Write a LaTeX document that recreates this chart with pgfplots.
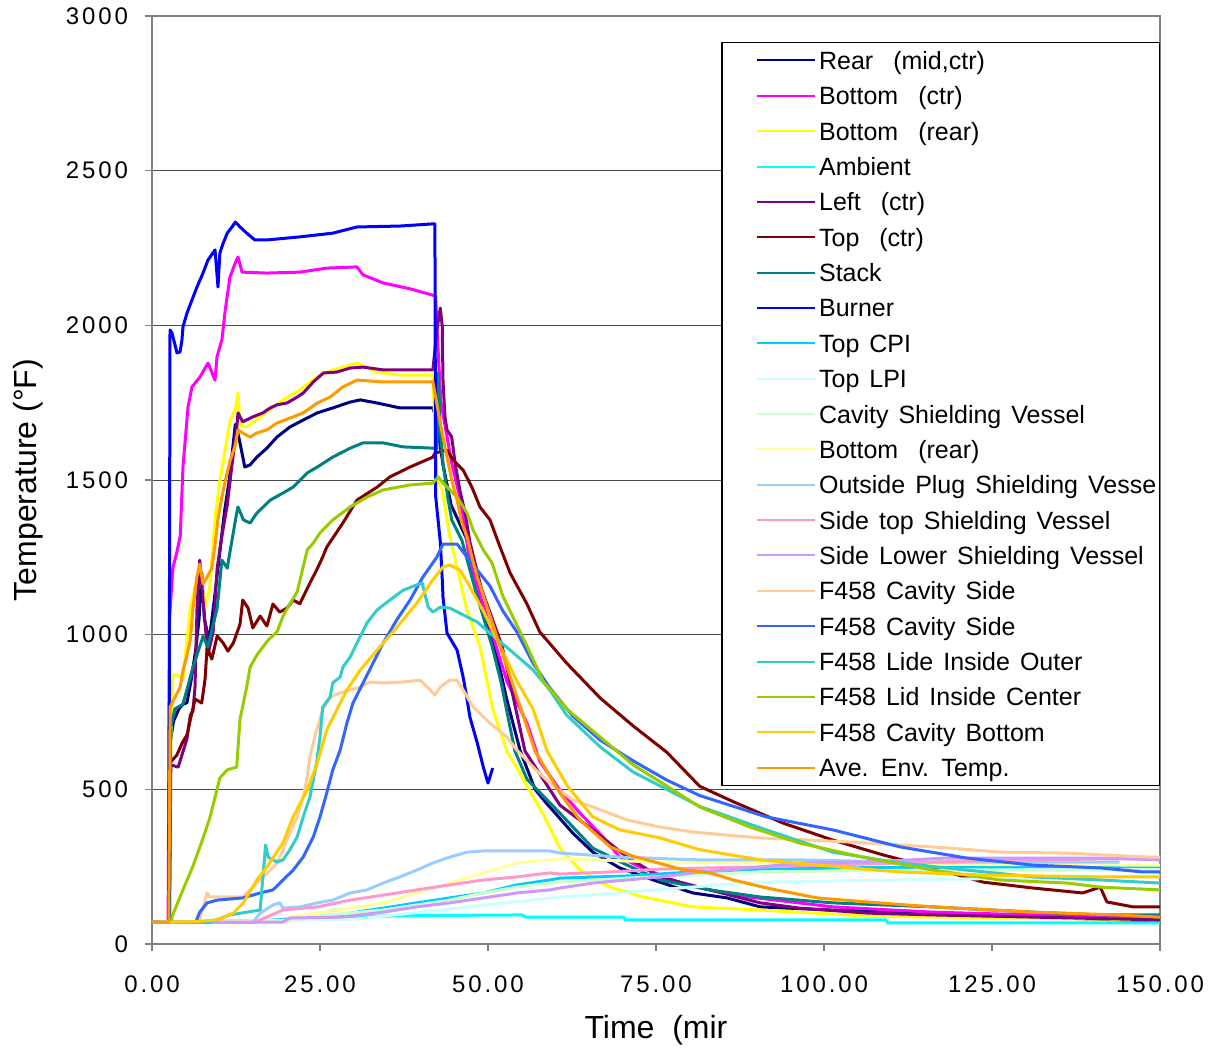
\documentclass[border=0pt]{standalone}
\usepackage{fontspec}
\setmainfont{Liberation Sans}
\newfontfamily\tickfont[LetterSpace=12]{Liberation Sans}
\newfontfamily\legfont[WordSpace=1.44]{Liberation Sans}
\usepackage{pgfplots}
\pgfplotsset{compat=1.18}
\definecolor{cA}{RGB}{0,0,128}
\definecolor{cB}{RGB}{255,0,255}
\definecolor{cC}{RGB}{255,255,0}
\definecolor{cD}{RGB}{0,255,255}
\definecolor{cE}{RGB}{128,0,128}
\definecolor{cF}{RGB}{128,0,0}
\definecolor{cG}{RGB}{0,128,128}
\definecolor{cH}{RGB}{0,0,255}
\definecolor{cI}{RGB}{0,204,255}
\definecolor{cJ}{RGB}{204,255,255}
\definecolor{cK}{RGB}{204,255,204}
\definecolor{cL}{RGB}{255,255,153}
\definecolor{cM}{RGB}{153,204,255}
\definecolor{cN}{RGB}{255,153,204}
\definecolor{cO}{RGB}{204,153,255}
\definecolor{cP}{RGB}{255,204,153}
\definecolor{cQ}{RGB}{51,102,255}
\definecolor{cR}{RGB}{51,204,204}
\definecolor{cS}{RGB}{153,204,0}
\definecolor{cT}{RGB}{255,204,0}
\definecolor{cU}{RGB}{255,153,0}
\begin{document}
\begin{tikzpicture}
\begin{axis}[
  scale only axis, width=504pt, height=464pt,
  xmin=0, xmax=150, ymin=0, ymax=3000,
  xtick={0,25,50,75,100,125,150}, ytick={0,500,1000,1500,2000,2500,3000},
  tick pos=left,
  tick align=outside, major tick length=3.5pt,
  tick style={color=black!50, line width=0.8pt},
  axis line style={color=black!50, line width=1pt},
  ymajorgrids, major grid style={color=black!70, line width=0.5pt},
  /pgf/number format/assume math mode=true,
  xticklabel style={font=\fontsize{12}{14}\tickfont, /pgf/number format/fixed, /pgf/number format/fixed zerofill, /pgf/number format/precision=2, yshift=-9pt},
  yticklabel style={font=\fontsize{12}{14}\tickfont, /pgf/number format/1000 sep={}, xshift=-5pt},
  xlabel={Time\ \ (mir},
  xlabel style={at={(axis description cs:0.5,-0.0927)}, anchor=center, font=\fontsize{16}{19}\selectfont},
  ylabel={Temperature (°F)},
  ylabel style={at={(axis description cs:-0.123,0.5)}, anchor=center, font=\fontsize{16}{19}\selectfont},
  every axis plot/.append style={line width=1.5pt, line join=round, no markers},
  legend cell align=left,
  legend image code/.code={\path[draw=none] (-17.5pt,0pt) (29pt,0pt); \draw[#1, line width=1pt] (0pt,0pt) -- (29pt,0pt);},
  legend style={at={(rel axis cs:1,0.972)}, anchor=north east, draw=black, line width=0.75pt,
    inner xsep=0pt, inner ysep=0pt, font=\fontsize{12.5}{15}\legfont,
    /tikz/column sep=0pt, /tikz/row sep=0pt,
    cells={anchor=west},
    nodes={inner xsep=1.5pt, inner ysep=0pt, text height=13.34pt, text depth=4.34pt}},
]
\addplot[cA] coordinates {(0,70)(2.5,70)(2.7,650)(3.2,720)(4.0,760)(4.6,775)(5.2,780)(5.8,850)(6.5,950)(7.0,1050)(7.4,1200)(7.8,1050)(8.5,980)(9.2,1100)(10.0,1250)(10.8,1400)(11.5,1500)(12.0,1600)(12.4,1680)(12.8,1650)(13.4,1587)(13.8,1542)(14.6,1549)(15.6,1574)(17.1,1603)(18.6,1639)(20.5,1671)(22.5,1694)(24.6,1717)(26.9,1733)(29.5,1752)(31.0,1759)(33.5,1749)(36.9,1733)(41.8,1733)(42.3,1700)(43.3,1550)(44.5,1420)(46.9,1306)(49.0,1100)(51.0,963)(52.8,790)(54.8,624)(57.0,500)(58.5,460)(62.6,359)(65.6,297)(69.6,246)(74.6,207)(80.5,165)(85.6,149)(90.5,120)(100.9,110)(115.8,100)(130.7,87)(150,74)};
\addlegendentry{Rear\ \ (mid,ctr)}
\addplot[cB] coordinates {(0,70)(2.4,70)(2.6,1047)(3.1,1215)(3.7,1267)(4.2,1319)(4.61,1542)(5.36,1736)(5.95,1801)(7.14,1833)(8.33,1878)(9.38,1823)(9.67,1898)(10.4,1953)(10.9,2050)(11.6,2156)(12.4,2202)(12.8,2221)(13.4,2172)(17.1,2169)(22.0,2172)(26.0,2185)(30.5,2189)(31.4,2163)(34.4,2137)(38.4,2118)(41.7,2098)(42.2,2095)(42.5,1950)(43.0,1750)(44.6,1555)(45.8,1445)(46.6,1338)(47.3,1232)(48.4,1157)(51.2,963)(52.8,850)(55.8,714)(57.7,590)(60.7,498)(63.7,423)(67.1,346)(69.6,281)(72.6,249)(79.0,194)(86.5,158)(101.3,120)(116.2,103)(131.1,94)(150,84)};
\addlegendentry{Bottom\ \ (ctr)}
\addplot[cC] coordinates {(0,70)(2.6,70)(2.7,575)(3.1,870)(3.9,870)(4.6,857)(5.7,1086)(6.4,1151)(7.1,1215)(7.9,1086)(8.6,1151)(9.4,1380)(10.1,1497)(10.9,1600)(11.6,1691)(12.4,1729)(12.8,1781)(13.1,1678)(14.1,1671)(16.1,1704)(19.5,1759)(22.0,1791)(24.5,1833)(26.9,1856)(29.5,1872)(30.6,1878)(33.4,1849)(36.9,1839)(41.8,1839)(42.4,1500)(43.2,1468)(44.0,1361)(44.3,1320)(46.9,1077)(48.8,963)(50.7,760)(52.8,624)(54.3,569)(55.8,511)(58.2,420)(60.7,310)(63.7,239)(68.2,184)(73.1,152)(80.5,120)(90.5,110)(106.4,90)(150,78)};
\addlegendentry{Bottom\ \ (rear)}
\addplot[cD] coordinates {(0,70)(20,78)(25,87)(40,92)(55.1,94)(55.6,87)(70.2,87)(70.4,78)(109.2,78)(109.5,68)(150,68)};
\addlegendentry{Ambient}
\addplot[cE] coordinates {(0,70)(2.6,70)(2.8,579)(3.9,572)(5.2,663)(5.7,740)(6.1,753)(6.4,831)(6.7,1086)(7.1,1241)(7.6,1112)(8.3,934)(9.1,1009)(9.7,1215)(10.4,1319)(11.2,1419)(11.9,1549)(12.6,1665)(12.8,1717)(13.5,1688)(15.0,1704)(16.5,1717)(17.6,1733)(18.6,1743)(20.1,1749)(21.6,1768)(22.5,1781)(24.0,1817)(25.5,1846)(27.5,1849)(29.5,1862)(31.4,1865)(34.4,1856)(41.8,1856)(42.4,1985)(42.9,2056)(43.2,1995)(43.3,1823)(43.6,1704)(43.9,1662)(44.6,1639)(45.1,1555)(45.8,1468)(46.6,1393)(47.3,1300)(49.0,1150)(52.1,963)(55.5,624)(60.7,449)(65.6,369)(70.7,281)(75.6,217)(83.0,175)(90.5,133)(96.4,116)(106.4,100)(116.2,94)(131.1,87)(150,78)};
\addlegendentry{Left\ \ (ctr)}
\addplot[cF] coordinates {(0,70)(2.5,70)(2.65,585)(3.7,611)(4.5,650)(5.2,676)(6.0,753)(6.4,792)(7.4,779)(7.9,857)(8.2,960)(8.9,921)(9.7,996)(10.6,973)(11.3,947)(12.1,973)(13.1,1034)(13.5,1112)(14.3,1086)(15.0,1022)(16.1,1060)(17.1,1028)(18.0,1099)(19.0,1073)(20.1,1086)(21.0,1112)(22.0,1100)(23.5,1167)(24.5,1209)(25.4,1251)(26.0,1283)(28.4,1361)(30.5,1435)(33.5,1477)(35.4,1510)(38.4,1542)(41.8,1574)(42.1,1587)(43.9,1597)(44.8,1565)(46.3,1532)(47.6,1477)(48.8,1413)(50.3,1371)(51.8,1283)(53.3,1199)(55.8,1099)(57.7,1009)(61.7,908)(66.7,795)(71.6,705)(76.6,620)(81.5,510)(86.5,460)(93.9,391)(101.3,336)(108.8,288)(116.2,246)(123.7,200)(131.1,181)(138.5,165)(141.1,184)(142.1,136)(146.0,120)(150,120)};
\addlegendentry{Top\ \ (ctr)}
\addplot[cG] coordinates {(0,70)(2.6,70)(2.8,700)(3.4,760)(4.6,775)(6.1,895)(7.6,995)(8.3,960)(9.7,1086)(10.4,1241)(11.2,1215)(11.6,1267)(12.6,1393)(12.8,1413)(13.6,1371)(14.6,1361)(15.6,1393)(17.6,1435)(19.5,1458)(21.0,1477)(23.1,1523)(24.6,1542)(26.9,1574)(29.5,1603)(31.4,1620)(34.4,1620)(37.4,1607)(41.8,1603)(42.4,1600)(42.6,1846)(42.9,1662)(43.3,1555)(44.0,1445)(44.6,1371)(46.1,1306)(48.3,1130)(50.6,963)(51.9,850)(54.0,624)(55.8,533)(60.7,423)(65.6,310)(70.7,255)(75.6,207)(83.0,175)(90.5,152)(101.3,133)(116.2,120)(131.1,103)(141.1,94)(150,94)};
\addlegendentry{Stack}
\addplot[cH] coordinates {(0,70)(2.5,70)(2.68,1985)(2.98,1975)(3.72,1911)(4.17,1914)(4.46,1953)(4.61,1995)(5.21,2040)(5.95,2082)(6.70,2124)(7.59,2169)(8.33,2211)(9.38,2244)(9.82,2124)(10.1,2234)(10.6,2266)(11.2,2298)(11.9,2318)(12.4,2334)(13.1,2318)(14.1,2298)(15.3,2276)(17.1,2276)(22.0,2286)(26.9,2298)(30.5,2318)(36.9,2321)(41.8,2328)(42.1,2328)(42.2,1450)(42.9,1300)(43.2,1177)(43.3,1122)(43.9,1005)(45.4,950)(46.3,863)(46.9,789)(47.3,734)(48.4,650)(49.3,572)(50.0,520)(50.7,569)};
\addlegendentry{Burner}
\addplot[cI] coordinates {(0,70)(15,72)(22,84)(27,87)(29.5,100)(34.4,116)(39.4,133)(44.3,149)(49.3,165)(54.3,191)(59.2,207)(60.7,213)(70.7,220)(80.5,233)(90.5,242)(110,248)(150,250)};
\addlegendentry{Top CPI}
\addplot[cJ] coordinates {(0,70)(30,80)(60,150)(90,200)(150,220)};
\addlegendentry{Top LPI}
\addplot[cK] coordinates {(0,70)(20,72)(22,87)(29.5,100)(34.4,110)(39.4,126)(44.3,142)(49.3,165)(54.3,184)(59.2,197)(60.7,200)(70.7,213)(80.5,223)(90.5,233)(110,238)(150,240)};
\addlegendentry{Cavity Shielding Vessel}
\addplot[cL] coordinates {(0,70)(20,75)(20.5,87)(24.6,100)(29.5,116)(34.4,133)(39.4,165)(44.3,197)(49.3,230)(54.3,262)(59.2,272)(60.7,275)(65.6,272)(75.6,265)(90,262)(110,258)(150,255)};
\addlegendentry{Bottom\ \ (rear)}
\addplot[cM] coordinates {(0,70)(15,70)(16.1,100)(18.0,126)(19.0,133)(19.5,116)(22.0,120)(24.6,133)(26.9,142)(29.5,165)(32.0,175)(34.4,197)(36.9,217)(39.4,239)(41.8,262)(44.3,281)(46.9,297)(49.3,301)(59.2,301)(60.7,294)(69.6,281)(81.5,272)(96.4,272)(111.3,265)(126.2,265)(144.0,265)};
\addlegendentry{Outside Plug Shielding Vesse}
\addplot[cN] coordinates {(0,70)(15.5,70)(16.1,78)(19.5,110)(24.6,120)(29.5,142)(34.4,158)(39.4,175)(44.3,191)(49.3,207)(54.3,217)(59.2,230)(60.7,226)(68.2,233)(75.6,242)(83.0,246)(90.5,249)(100,255)(116.2,265)(131.1,272)(141.1,275)(150,275)};
\addlegendentry{Side top Shielding Vessel}
\addplot[cO] coordinates {(0,70)(19.5,71)(20.5,84)(28.3,87)(34.4,103)(39.4,120)(44.3,133)(49.3,149)(54.3,165)(59.2,175)(60.7,181)(65.6,197)(70.7,207)(75.6,217)(80.5,230)(85.6,239)(90.5,249)(96.4,262)(106.4,265)(118.3,278)(141.1,278)(150,272)};
\addlegendentry{Side Lower Shielding Vessel}
\addplot[cP] coordinates {(0,70)(7.0,70)(8.2,165)(8.6,152)(13.5,152)(14.6,175)(16.1,207)(17.6,239)(18.6,262)(19.5,304)(20.5,359)(21.6,411)(22.5,475)(23.1,540)(23.5,605)(24.5,692)(25.4,757)(26.5,798)(27.9,811)(29.5,821)(31.0,831)(32.4,847)(34.4,844)(37.4,847)(39.9,853)(41.4,821)(42.1,805)(42.9,831)(44.3,853)(45.4,853)(46.3,821)(47.8,766)(50.3,714)(52.8,669)(54.3,627)(56.7,572)(59.2,520)(62.6,466)(65.6,443)(70.7,401)(75.6,378)(80.5,362)(85.6,352)(90.5,343)(97.9,336)(107.0,326)(118.8,310)(126.2,297)(135.7,294)(148.5,281)(150,281)};
\addlegendentry{F458 Cavity Side}
\addplot[cQ] coordinates {(0,70)(6.5,70)(7.1,103)(8.2,133)(9.7,142)(13.5,149)(16.1,165)(18.0,175)(19.5,207)(21.0,239)(22.5,281)(24.0,346)(25.0,411)(26.0,488)(26.9,563)(28.0,627)(29.0,714)(29.9,779)(31.4,844)(32.9,908)(34.4,973)(36.4,1047)(38.4,1112)(40.3,1186)(42.4,1251)(43.3,1293)(45.4,1293)(47.8,1225)(50.3,1157)(52.2,1077)(54.3,1009)(56.7,908)(59.2,828)(62.6,737)(66.7,659)(71.6,592)(76.6,530)(81.5,480)(91.4,411)(101.3,369)(111.3,314)(121.2,278)(131.1,255)(141.1,246)(147.4,233)(150,233)};
\addlegendentry{F458 Cavity Side}
\addplot[cR] coordinates {(0,70)(8.5,70)(11.6,94)(16.1,110)(16.9,320)(17.3,281)(18.6,265)(19.5,272)(20.5,304)(21.6,346)(22.5,411)(23.5,475)(24.5,585)(25.0,669)(25.4,766)(26.5,798)(26.9,844)(28.0,863)(28.4,895)(29.5,928)(30.5,973)(32.0,1038)(33.5,1080)(35.4,1112)(37.4,1144)(39.4,1161)(40.2,1167)(41.1,1089)(41.8,1073)(42.9,1089)(44.3,1086)(46.3,1064)(48.4,1041)(50.3,1005)(53.3,950)(56.7,886)(59.2,821)(61.7,740)(66.7,637)(71.6,556)(76.6,500)(81.5,445)(91.4,369)(101.3,297)(111.3,262)(121.2,239)(131.1,217)(141.1,207)(150,197)};
\addlegendentry{F458 Lide Inside Outer}
\addplot[cS] coordinates {(0,70)(2.9,70)(3.0,90)(4.6,175)(6.1,252)(7.4,330)(8.6,407)(10.1,537)(11.2,563)(12.6,572)(13.1,727)(14.1,831)(14.6,895)(15.6,934)(16.5,960)(17.3,983)(18.6,1009)(19.5,1060)(20.5,1099)(21.6,1138)(23.1,1274)(24.0,1296)(25.0,1329)(26.9,1371)(29.5,1413)(32.0,1445)(34.4,1468)(38.4,1484)(41.8,1490)(42.6,1510)(43.3,1490)(45.4,1445)(46.9,1393)(47.8,1338)(49.3,1274)(50.6,1232)(52.2,1125)(55.8,963)(58.2,850)(61.7,760)(66.7,669)(71.6,579)(76.6,511)(81.5,443)(89.0,378)(96.4,326)(106.4,278)(116.2,239)(126.2,207)(136.2,197)(141.1,184)(150,175)};
\addlegendentry{F458 Lid Inside Center}
\addplot[cT] coordinates {(0,70)(6.1,72)(9.7,78)(12.1,100)(13.6,133)(15.6,207)(17.1,249)(19.5,327)(21.0,411)(23.1,498)(24.6,585)(26.0,692)(27.5,757)(29.0,821)(31.0,886)(33.5,950)(36.5,1025)(39.4,1102)(41.8,1177)(43.3,1219)(44.3,1225)(45.8,1209)(46.9,1170)(49.3,1077)(51.8,963)(54.3,850)(56.7,760)(58.8,624)(61.8,511)(65.6,411)(69.6,369)(75.6,343)(81.5,305)(90.5,272)(103.9,246)(111.3,233)(123.7,223)(141.1,217)(150,217)};
\addlegendentry{F458 Cavity Bottom}
\addplot[cU] coordinates {(0,70)(2.5,70)(2.7,766)(4.2,831)(4.6,882)(5.2,934)(5.7,983)(6.1,1086)(6.7,1190)(7.1,1228)(7.6,1164)(8.3,1190)(8.9,1215)(9.4,1293)(9.8,1371)(10.4,1445)(10.9,1497)(11.6,1561)(12.4,1613)(12.8,1662)(13.5,1652)(14.6,1639)(15.6,1652)(17.1,1662)(18.6,1684)(20.5,1700)(22.5,1717)(24.6,1749)(26.5,1768)(28.4,1801)(30.5,1823)(34.4,1817)(41.8,1817)(42.1,1781)(42.9,1684)(43.3,1639)(43.9,1574)(44.6,1500)(45.4,1435)(46.1,1361)(46.9,1316)(47.6,1251)(48.4,1186)(51.8,963)(57.0,624)(60.7,488)(63.7,400)(68.2,314)(71.6,284)(79.0,240)(83.0,230)(86.5,207)(91.5,181)(99.0,149)(106.4,136)(116.2,120)(131.1,103)(143.6,94)(150,87)};
\addlegendentry{Ave. Env. Temp.}
\coordinate (BL) at (rel axis cs:0,0);
\coordinate (TR) at (rel axis cs:1,1);
\end{axis}
\pgfresetboundingbox
\path[use as bounding box] ([shift={(-76pt,-53.5pt)}]BL) rectangle ([shift={(26pt,8pt)}]TR);
\end{tikzpicture}
\end{document}
